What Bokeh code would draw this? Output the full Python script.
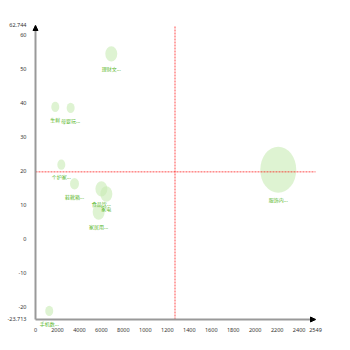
from bokeh.plotting import figure
from bokeh.models import ColumnDataSource, FixedTicker, Arrow, NormalHead, Label
from bokeh.embed import file_html
from bokeh.resources import INLINE

# data
names = ["服饰内...", "理财文...", "生鲜", "母婴玩...", "个护家...", "鞋靴箱...",
         "食品饮...", "家电", "家居用...", "手机数..."]
xs = [22100, 6900, 1800, 3200, 2350, 3550, 6000, 6450, 5750, 1250]
ys = [20.3, 54.4, 38.8, 38.5, 21.8, 16.2, 14.7, 13.2, 7.9, -21.2]
sizes = [36, 12, 8, 8, 8, 9, 12, 12, 12, 8]
x_mean = 12700
y_mean = 19.7
x_min, x_max = 0, 25490
y_min, y_max = -23.713, 62.744
x_pad_l, x_pad_r = 2731, 1365
y_pad_b, y_pad_t = 5.0, 1.47
x_ticks = [0, 2000, 4000, 6000, 8000, 10000, 12000, 14000, 16000, 18000,
           20000, 22000, 24000, 25490]
y_ticks = [-23.713, -20, -10, 0, 10, 20, 30, 40, 50, 60, 62.744]

widths = [s for s in sizes]
heights = [s * 1.28 for s in sizes]
offsets = [-(h / 2 + 7) for h in heights]

src = ColumnDataSource(dict(x=xs, y=ys, name=names, w=widths, h=heights, off=offsets))

p = figure(width=350, height=350, output_backend="svg", toolbar_location=None,
           x_range=(x_min - x_pad_l, x_max + x_pad_r),
           y_range=(y_min - y_pad_b, y_max + y_pad_t),
           min_border_left=5, min_border_right=20, min_border_top=20,
           min_border_bottom=14)
p.outline_line_color = None
p.grid.visible = False
p.background_fill_color = "white"

p.ellipse(x="x", y="y", width="w", height="h", width_units="screen",
          height_units="screen", source=src, fill_color="#c8ebb4",
          fill_alpha=0.6, line_color=None)

p.segment(x0=[x_mean, x_min], y0=[y_min, y_mean], x1=[x_mean, x_max], y1=[y_max, y_mean],
          line_color="red", line_alpha=0.7, line_dash="2 1", line_width=1)

for n, x, y, o in zip(names, xs, ys, offsets):
    p.add_layout(Label(x=x, y=y, text=n, y_offset=o, text_align="center",
                       text_baseline="middle", text_font_size="5px",
                       text_color="#5cb82e", text_font="Noto Sans CJK SC",
                       level="overlay"))

for ax in (p.xaxis, p.yaxis):
    ax.axis_line_color = "#999999"
    ax.axis_line_width = 2
    ax.major_tick_line_color = None
    ax.minor_tick_line_color = None
    ax.major_label_text_font_size = "5.5px"
    ax.major_label_text_color = "#333333"
    ax.major_label_text_font = "Noto Sans"
    ax.major_label_standoff = 3

p.xaxis.fixed_location = y_min
p.yaxis.fixed_location = x_min
p.xaxis.bounds = (x_min, x_max)
p.yaxis.bounds = (y_min, y_max)
p.xaxis.ticker = FixedTicker(ticks=x_ticks)
p.xaxis.major_label_overrides = {t: str(t)[:4] for t in x_ticks}
p.yaxis.ticker = FixedTicker(ticks=y_ticks)
p.yaxis.major_label_overrides = {t: str(t) for t in y_ticks}

p.add_layout(Arrow(end=NormalHead(size=5, fill_color="black", line_color="black"),
                   x_start=x_min, y_start=y_min, x_end=x_min, y_end=y_max,
                   line_alpha=0))
p.add_layout(Arrow(end=NormalHead(size=5, fill_color="black", line_color="black"),
                   x_start=x_min, y_start=y_min, x_end=x_max, y_end=y_min,
                   line_alpha=0))

open("out.html", "w").write(file_html(p, INLINE))
